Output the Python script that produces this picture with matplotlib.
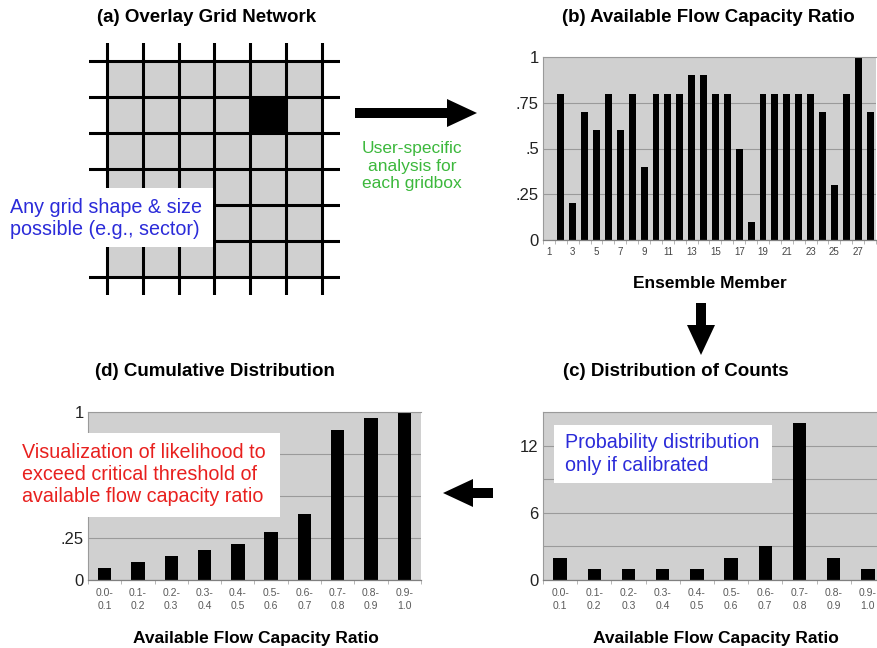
import matplotlib.pyplot as plt
import numpy as np
from matplotlib.patches import Rectangle, FancyArrow

plt.rcParams['font.family'] = ['Liberation Sans', 'DejaVu Sans']

W, H = 878, 648

# (b) available flow capacity ratio per ensemble member
members = np.arange(1, 29)
flow_ratio = [0.0, 0.8, 0.2, 0.7, 0.6, 0.8, 0.6, 0.8, 0.4, 0.8, 0.8, 0.8, 0.9, 0.9,
              0.8, 0.8, 0.5, 0.1, 0.8, 0.8, 0.8, 0.8, 0.8, 0.7, 0.3, 0.8, 1.0, 0.7]
member_ticks = list(range(1, 28, 2))

# (c) counts per ratio bin, (d) cumulative fraction
bin_labels = ["0.0-\n0.1", "0.1-\n0.2", "0.2-\n0.3", "0.3-\n0.4", "0.4-\n0.5",
              "0.5-\n0.6", "0.6-\n0.7", "0.7-\n0.8", "0.8-\n0.9", "0.9-\n1.0"]
counts = np.array([2, 1, 1, 1, 1, 2, 3, 14, 2, 1])
cumulative = np.cumsum(counts) / counts.sum()

# (a) overlay grid
grid_cells = 6
dark_cell = (4, 1)  # column, row counted from the top

GRAY_BG = '#d0d0d0'
GRID_C = '#9a9a9a'


def rect(l, t, r, b):
    # pixel box -> figure fraction
    return [l / W, 1 - b / H, (r - l) / W, (b - t) / H]


def style_chart(ax, yticks, ylabels, ymax):
    ax.set_facecolor(GRAY_BG)
    ax.set_ylim(0, ymax)
    ax.set_yticks(yticks)
    ax.set_yticklabels(ylabels)
    ax.grid(axis='y', color=GRID_C, lw=0.8)
    ax.set_axisbelow(True)
    ax.tick_params(axis='y', length=0, labelsize=12, pad=3, colors='#222222')
    ax.tick_params(axis='x', which='major', length=0)
    ax.tick_params(axis='x', which='minor', length=3, color='#aaaaaa')
    ax.spines['right'].set_visible(False)
    ax.spines['top'].set_color(GRID_C)
    ax.spines['top'].set_linewidth(0.8)
    ax.spines['left'].set_color(GRID_C)
    ax.spines['left'].set_linewidth(0.8)
    ax.spines['bottom'].set_color('#808080')
    ax.spines['bottom'].set_linewidth(0.9)


fig = plt.figure(figsize=(W / 100, H / 100), dpi=100)

# (a) grid network
ax_a = fig.add_axes(rect(89, 43, 340, 295))
ax_a.set_xlim(-0.5, grid_cells + 0.5)
ax_a.set_ylim(grid_cells + 0.5, -0.5)
ax_a.add_patch(Rectangle((0, 0), grid_cells, grid_cells, color=GRAY_BG, lw=0))
ax_a.add_patch(Rectangle(dark_cell, 1, 1, color='black', lw=0))
for i in range(grid_cells + 1):
    ax_a.plot([i, i], [-0.5, grid_cells + 0.5], color='black', lw=2.2)
    ax_a.plot([-0.5, grid_cells + 0.5], [i, i], color='black', lw=2.2)
ax_a.axis('off')

# (b) ensemble bars
ax_b = fig.add_axes(rect(543, 57, 876, 240))
ax_b.bar(members, flow_ratio, width=0.58, color='black')
ax_b.set_xlim(0.5, 28.5)
style_chart(ax_b, [0, 0.25, 0.5, 0.75, 1], ['0', '.25', '.5', '.75', '1'], 1)
ax_b.set_xticks(member_ticks)
ax_b.set_xticklabels([str(m) for m in member_ticks])
ax_b.set_xticks(np.arange(0.5, 29), minor=True)
ax_b.tick_params(axis='x', labelsize=7, labelcolor='#444444', pad=5)

# (c) distribution of counts
x = np.arange(len(counts))
ax_c = fig.add_axes(rect(543, 412, 885, 580))
ax_c.bar(x, counts, width=0.39, color='black')
ax_c.set_xlim(-0.5, len(counts) - 0.5)
style_chart(ax_c, [0, 3, 6, 9, 12, 15], ['0', '', '6', '', '12', ''], 15)

# (d) cumulative distribution; the note box sits over the middle labels
ax_d = fig.add_axes(rect(88, 412, 421, 580))
ax_d.bar(x, cumulative, width=0.4, color='black')
ax_d.set_xlim(-0.5, len(counts) - 0.5)
style_chart(ax_d, [0, 0.25, 0.5, 0.75, 1], ['0', '.25', '', '', '1'], 1)

for ax in (ax_c, ax_d):
    ax.set_xticks(x)
    ax.set_xticklabels(bin_labels)
    ax.set_xticks(np.arange(-0.5, len(counts)), minor=True)
    ax.tick_params(axis='x', labelsize=7.5, labelcolor='#5a5a5a', pad=6)
    for lbl in ax.get_xticklabels():
        lbl.set_linespacing(1.3)

# overlay in pixel units for titles, notes and arrows
ov = fig.add_axes([0, 0, 1, 1])
ov.set_xlim(0, W)
ov.set_ylim(H, 0)
ov.axis('off')
ov.set_zorder(10)
ov.patch.set_alpha(0)

titles = [("(a) Overlay Grid Network", 207, 18),
          ("(b) Available Flow Capacity Ratio", 708, 18),
          ("(c) Distribution of Counts", 676, 372),
          ("(d) Cumulative Distribution", 215, 372)]
for s, tx, ty in titles:
    ov.text(tx, ty, s, ha='center', va='center', fontsize=13.5, weight='bold')

xlabels = [("Ensemble Member", 710, 284),
           ("Available Flow Capacity Ratio", 716, 638),
           ("Available Flow Capacity Ratio", 256, 638)]
for s, tx, ty in xlabels:
    ov.text(tx, ty, s, ha='center', va='center', fontsize=12.5, weight='bold')

# note boxes
ov.add_patch(Rectangle((0, 188), 213, 59, color='white', lw=0))
ov.text(10, 218.5, "Any grid shape & size\npossible (e.g., sector)", ha='left',
        va='center', fontsize=14.2, color='#2b2bd9', linespacing=1.2)

ov.add_patch(Rectangle((554, 425), 218, 58, color='white', lw=0))
ov.text(565, 454, "Probability distribution\nonly if calibrated", ha='left',
        va='center', fontsize=14.2, color='#2b2bd9', linespacing=1.27)

ov.add_patch(Rectangle((0, 433), 280, 84, color='white', lw=0))
ov.text(22, 475, "Visualization of likelihood to\nexceed critical threshold of\n"
        "available flow capacity ratio", ha='left', va='center', fontsize=14.2,
        color='#e8201e', linespacing=1.2)

ov.text(412, 166, "User-specific\nanalysis for\neach gridbox", ha='center',
        va='center', fontsize=12.5, color='#3cb83c', linespacing=1.18)

# flow arrows between panels
arrow_kw = dict(width=10, head_width=28, head_length=30,
                length_includes_head=True, color='black', lw=0)
ov.add_patch(FancyArrow(355, 113, 122, 0, **arrow_kw))
ov.add_patch(FancyArrow(701, 303, 0, 52, **arrow_kw))
ov.add_patch(FancyArrow(493, 493, -50, 0, **arrow_kw))

fig.savefig('out.png', dpi=100)
